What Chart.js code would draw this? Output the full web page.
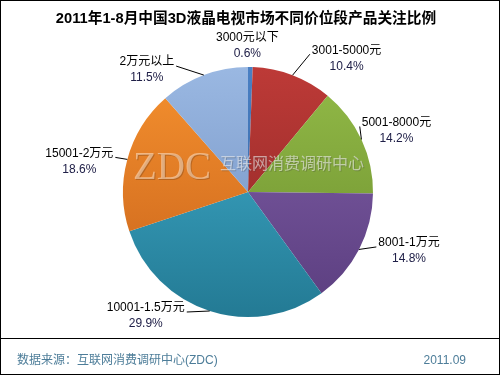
<!DOCTYPE html>
<html><head><meta charset="utf-8">
<script src="https://cdn.jsdelivr.net/npm/chart.js@4/dist/chart.umd.min.js"></script>
<style>html,body{margin:0;padding:0;background:#fff}#wrap{width:500px;height:375px;position:relative}</style>
</head><body><div id="wrap"><canvas id="c" width="500" height="375"></canvas></div>
<script>
const categories = ['3000元以下', '3001-5000元', '5001-8000元', '8001-1万元', '10001-1.5万元', '15001-2万元', '2万元以上'];
const shares = [0.6, 10.4, 14.2, 14.8, 29.9, 18.6, 11.5];
const titleText = '2011年1-8月中国3D液晶电视市场不同价位段产品关注比例';
const sourceText = '数据来源：互联网消费调研中心(ZDC)';
const dateText = '2011.09';
const watermarkLogo = 'ZDC';
const watermarkName = '互联网消费调研中心';

const topColors = ['#4a80c4', '#bd3a37', '#93bb48', '#8261aa', '#42b0cf', '#f5912f', '#9ab8e2'];
const bottomColors = ['#2f5f9a', '#8a2624', '#6a8c2c', '#5a3d7e', '#237a94', '#c8621a', '#6e8dbf'];
const labelOffsets = [[-3, -29], [54, -25], [35, -17], [50, -6.5], [-64, -3], [-48, -6], [-57, -13]];

const FONT = '"Liberation Sans", Arial, "Noto Sans CJK SC", sans-serif';

const decor = {
  id: 'decor',
  afterDatasetsDraw(chart) {
    const c = chart.ctx;
    const meta = chart.getDatasetMeta(0);
    const el = meta.data[0];
    const cx = el.x, cy = el.y;
    c.save();
    // watermark
    c.font = '39px "Liberation Serif", "Times New Roman", serif';
    c.textAlign = 'left';
    c.textBaseline = 'alphabetic';
    c.save();
    c.translate(cx - 115, cy - 13);
    c.scale(1.0, 1);
    c.fillStyle = 'rgba(90,50,20,0.3)';
    c.fillText(watermarkLogo, 1, 1);
    c.fillStyle = 'rgba(255,230,205,0.55)';
    c.fillText(watermarkLogo, 0, 0);
    c.restore();
    c.font = '16px "Noto Sans CJK SC", sans-serif';
    c.textBaseline = 'middle';
    c.fillStyle = 'rgba(60,60,60,0.25)';
    c.fillText(watermarkName, cx - 27, cy - 28);
    c.fillStyle = 'rgba(235,235,235,0.6)';
    c.fillText(watermarkName, cx - 28, cy - 29);
    c.restore();
  },
  afterDraw(chart) {
    const c = chart.ctx;
    const meta = chart.getDatasetMeta(0);
    c.save();
    // border
    c.strokeStyle = '#000';
    c.lineWidth = 1;
    c.strokeRect(0.5, 0.5, 499, 374);
    // title
    c.fillStyle = '#000';
    c.font = 'bold 14.7px ' + FONT;
    c.textAlign = 'center';
    c.textBaseline = 'middle';
    c.fillText(titleText, 246, 19);
    // labels
    c.font = '12px ' + FONT;
    meta.data.forEach((arc, i) => {
      const p = arc.getProps(['x', 'y', 'startAngle', 'endAngle', 'outerRadius'], true);
      const mid = (p.startAngle + p.endAngle) / 2;
      const ex = p.x + Math.cos(mid) * p.outerRadius;
      const ey = p.y + Math.sin(mid) * p.outerRadius;
      const lx = ex + labelOffsets[i][0];
      const ly = ey + labelOffsets[i][1];
      const w = c.measureText(categories[i]).width;
      if (i !== 0) {
        const endX = labelOffsets[i][0] > 0 ? lx - w / 2 - 2 : lx + w / 2 + 2;
        c.beginPath();
        c.strokeStyle = '#000';
        c.lineWidth = 1;
        c.moveTo(ex, ey);
        c.lineTo(endX, ly + 4);
        c.stroke();
      }
      c.fillStyle = '#000';
      c.fillText(categories[i], lx, ly);
      c.fillStyle = '#202048';
      c.fillText(shares[i].toFixed(1) + '%', lx, ly + 16);
    });
    // footer
    c.beginPath();
    c.strokeStyle = '#000';
    c.moveTo(0, 338.5);
    c.lineTo(500, 338.5);
    c.stroke();
    c.fillStyle = '#4d7d99';
    c.font = '12px ' + FONT;
    c.textAlign = 'left';
    c.fillText(sourceText, 17, 361);
    c.textAlign = 'right';
    c.fillText(dateText, 466, 361);
    c.restore();
  }
};

new Chart(document.getElementById('c'), {
  type: 'pie',
  data: {
    labels: categories,
    datasets: [{
      data: shares,
      borderWidth: 0,
      backgroundColor: (ctx) => {
        const i = ctx.dataIndex;
        const ca = ctx.chart.chartArea;
        if (!ca) return topColors[i];
        const g = ctx.chart.ctx.createLinearGradient(0, ca.top, 0, ca.bottom);
        g.addColorStop(0, topColors[i]);
        g.addColorStop(1, bottomColors[i]);
        return g;
      }
    }]
  },
  options: {
    responsive: false,
    animation: false,
    layout: { padding: { top: 67, bottom: 58, left: 123, right: 127 } },
    plugins: { legend: { display: false }, tooltip: { enabled: false }, title: { display: false } }
  },
  plugins: [decor]
});
</script>
</body></html>
